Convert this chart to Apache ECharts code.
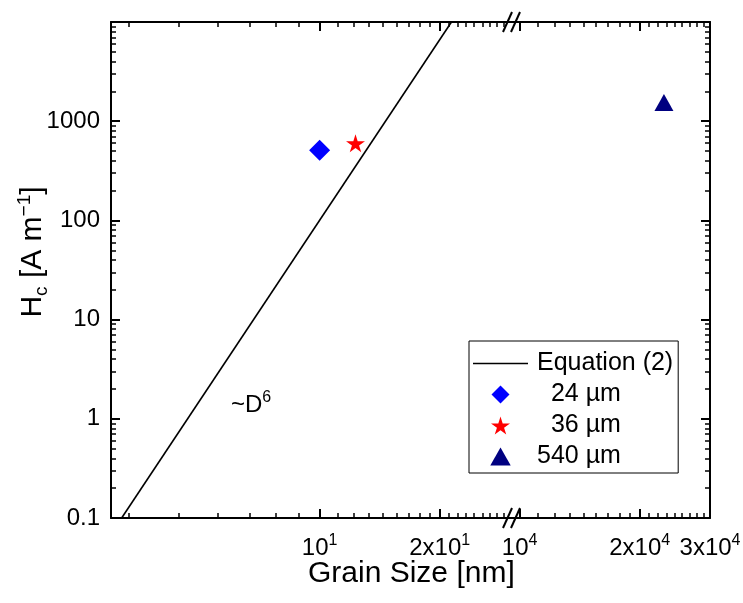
<!DOCTYPE html>
<html>
<head>
<meta charset="utf-8">
<script src="https://cdn.jsdelivr.net/npm/echarts@6/dist/echarts.min.js"></script>
<style>
html, body { margin: 0; padding: 0; background: #fff; }
#chart { width: 743px; height: 603px; }
</style>
</head>
<body>
<div id="chart"></div>
<script>
// 数据
var eqLine = [[3.19, 0.1], [21.4, 10000]];   // Equation (2), ~D^6
var grain24 = [[10, 510]];
var grain36 = [[12.3, 600]];
var grain540 = [[23000, 1540]];

// 刻度
var leftMajor = [10, 20];
var leftLabelBase = ['10', '2x10'];
var leftLabelExp = ['1', '1'];
var leftMinor = [3.33, 4.44, 5.56, 6.67, 7.78, 8.89,
	11.1, 12.2, 13.3, 14.4, 15.6, 16.7, 17.8, 18.9,
	21.1, 22.2, 23.3, 24.4, 25.6, 26.7, 27.8, 28.9];
var rightMajor = [10000, 20000, 30000];
var rightLabelBase = ['10', '2x10', '3x10'];
var rightLabelExp = ['4', '4', '4'];
var rightMinor = [11111, 12222, 13333, 14444, 15556, 16667, 17778, 18889,
	21111, 22222, 23333, 24444, 25556, 26667, 27778, 28889];
var yMajor = [0.1, 1, 10, 100, 1000, 10000];
var yLabels = ['0.1', '1', '10', '100', '1000'];
var yMinor = [0.2, 0.3, 0.4, 0.5, 0.6, 0.7, 0.8, 0.9,
	2, 3, 4, 5, 6, 7, 8, 9,
	20, 30, 40, 50, 60, 70, 80, 90,
	200, 300, 400, 500, 600, 700, 800, 900,
	2000, 3000, 4000, 5000, 6000, 7000, 8000, 9000];

var FONT = 'Liberation Sans';
// 图例和散点的符号
var starPath = 'path://M50,0 L61,35 L98,35 L68,57 L79,91 L50,70 L21,91 L32,57 L2,35 L39,35 Z';
var diamondPath = 'path://M50,0 L100,50 L50,100 L0,50 Z';
var trianglePath = 'path://M50,0 L100,88 L0,88 Z';
var linePath = 'path://M0,0 H100 V3 H0 Z';

var myChart = echarts.init(document.getElementById('chart'));

function findIndex(values, v) {
	for (var i = 0; i < values.length; i++) {
		if (Math.abs(v - values[i]) / values[i] < 1e-3) return i;
	}
	return -1;
}

function supLabel(values, bases, exps) {
	return function(v) {
		var i = findIndex(values, v);
		return i < 0 ? '' : '{b|' + bases[i] + '}{s|' + exps[i] + '}';
	};
}

var supRich = {
	b: { fontSize: 24, fontFamily: FONT, color: '#000', lineHeight: 30 },
	s: { fontSize: 16, fontFamily: FONT, color: '#000', lineHeight: 18, verticalAlign: 'top' }
};

// 主刻度轴
function xMajor(grid, pos, min, max, ticks, labels) {
	return {
		type: 'log', logBase: 10, gridIndex: grid, position: pos, min: min, max: max,
		axisLine: { show: true, onZero: false, lineStyle: { color: '#000', width: 2 } },
		axisTick: { show: true, inside: true, length: 9, customValues: ticks, lineStyle: { color: '#000', width: 2 } },
		axisLabel: labels ? {
			show: true, customValues: ticks, margin: 15, formatter: labels, rich: supRich
		} : { show: false },
		splitLine: { show: false }
	};
}
// 次刻度轴
function xMinor(grid, pos, min, max, ticks) {
	return {
		type: 'log', logBase: 10, gridIndex: grid, position: pos, min: min, max: max,
		axisLine: { show: false, onZero: false },
		axisTick: { show: true, inside: true, length: 5, customValues: ticks, lineStyle: { color: '#000', width: 1.5 } },
		axisLabel: { show: false },
		splitLine: { show: false }
	};
}

var option = {
	animation: false,
	grid: [
		{ left: 111, right: 233, top: 22, bottom: 85, outerBoundsMode: 'none' },
		{ left: 510, right: 33, top: 22, bottom: 85, outerBoundsMode: 'none' }
	],
	xAxis: [
		xMajor(0, 'bottom', 3, 30, leftMajor, supLabel(leftMajor, leftLabelBase, leftLabelExp)),
		xMinor(0, 'bottom', 3, 30, leftMinor),
		xMajor(0, 'top', 3, 30, leftMajor, null),
		xMinor(0, 'top', 3, 30, leftMinor),
		xMajor(1, 'bottom', 9460, 30000, rightMajor, supLabel(rightMajor, rightLabelBase, rightLabelExp)),
		xMinor(1, 'bottom', 9460, 30000, rightMinor),
		xMajor(1, 'top', 9460, 30000, rightMajor, null),
		xMinor(1, 'top', 9460, 30000, rightMinor)
	],
	yAxis: [
		{
			type: 'log', logBase: 10, gridIndex: 0, position: 'left', min: 0.1, max: 10000,
			name: '{b|H}{sub|c}{b| [A m}{sup|−1}{b|]}',
			nameLocation: 'middle', nameGap: 60, nameMoveOverlap: false,
			nameTextStyle: {
				padding: [0, 0, 0, 36],
				rich: {
					b: { fontSize: 30, fontFamily: FONT, color: '#000', lineHeight: 36 },
					sub: { fontSize: 19, fontFamily: FONT, color: '#000', lineHeight: 21, verticalAlign: 'bottom' },
					sup: { fontSize: 19, fontFamily: FONT, color: '#000', lineHeight: 21, verticalAlign: 'top' }
				}
			},
			axisLine: { show: true, onZero: false, lineStyle: { color: '#000', width: 2 } },
			axisTick: { show: true, inside: true, length: 9, customValues: yMajor, lineStyle: { color: '#000', width: 2 } },
			axisLabel: {
				show: true, customValues: yMajor, margin: 11,
				formatter: function(v) {
					var i = findIndex(yMajor, v);
					return (i < 0 || i >= yLabels.length) ? '' : '{b|' + yLabels[i] + '}';
				},
				rich: supRich
			},
			splitLine: { show: false }
		},
		{
			type: 'log', logBase: 10, gridIndex: 0, position: 'left', min: 0.1, max: 10000,
			axisLine: { show: false, onZero: false },
			axisTick: { show: true, inside: true, length: 5, customValues: yMinor, lineStyle: { color: '#000', width: 1.5 } },
			axisLabel: { show: false }, splitLine: { show: false }
		},
		{
			type: 'log', logBase: 10, gridIndex: 1, position: 'right', min: 0.1, max: 10000,
			axisLine: { show: true, onZero: false, lineStyle: { color: '#000', width: 2 } },
			axisTick: { show: true, inside: true, length: 9, customValues: yMajor, lineStyle: { color: '#000', width: 2 } },
			axisLabel: { show: false }, splitLine: { show: false }
		},
		{
			type: 'log', logBase: 10, gridIndex: 1, position: 'right', min: 0.1, max: 10000,
			axisLine: { show: false, onZero: false },
			axisTick: { show: true, inside: true, length: 5, customValues: yMinor, lineStyle: { color: '#000', width: 1.5 } },
			axisLabel: { show: false }, splitLine: { show: false }
		}
	],
	legend: {
		orient: 'vertical', left: 469, top: 341,
		padding: [10, 5, 4, 4], itemGap: 6, itemWidth: 55, itemHeight: 18,
		symbolKeepAspect: true,
		borderColor: '#000', borderWidth: 1,
		textStyle: { fontSize: 25, fontFamily: FONT, color: '#000', padding: [0, 0, 0, 4] },
		data: [
			{ name: 'Equation (2)', icon: linePath },
			{ name: '  24 µm', icon: diamondPath },
			{ name: '  36 µm', icon: starPath },
			{ name: '540 µm', icon: trianglePath }
		]
	},
	series: [
		{
			name: 'Equation (2)', type: 'line', xAxisIndex: 0, yAxisIndex: 0,
			symbol: 'none', data: eqLine,
			lineStyle: { color: '#000', width: 1.6 }, itemStyle: { color: '#000' }
		},
		{
			name: '  24 µm', type: 'scatter', xAxisIndex: 0, yAxisIndex: 0,
			symbol: 'diamond', symbolSize: 21, data: grain24,
			itemStyle: { color: '#0000ff', opacity: 1 }
		},
		{
			name: '  36 µm', type: 'scatter', xAxisIndex: 0, yAxisIndex: 0,
			symbol: starPath, symbolSize: 19, symbolKeepAspect: true, data: grain36,
			itemStyle: { color: '#ff0000', opacity: 1 }
		},
		{
			name: '540 µm', type: 'scatter', xAxisIndex: 4, yAxisIndex: 2,
			symbol: 'triangle', symbolSize: [19, 17], data: grain540,
			itemStyle: { color: '#000080', opacity: 1 }
		}
	],
	graphic: [
		{ type: 'text', left: 231, top: 390, style: { text: '{b|~D}{s|6}', rich: supRich, fill: '#000' } },
		{ type: 'text', left: 308, top: 559, style: { text: 'Grain Size [nm]', font: '30px ' + FONT, fill: '#000' } },
		// 断轴标记
		{ type: 'line', shape: { x1: 503, y1: 528, x2: 512, y2: 508 }, style: { stroke: '#000', lineWidth: 2 } },
		{ type: 'line', shape: { x1: 511, y1: 528, x2: 520, y2: 508 }, style: { stroke: '#000', lineWidth: 2 } },
		{ type: 'line', shape: { x1: 503, y1: 32, x2: 512, y2: 12 }, style: { stroke: '#000', lineWidth: 2 } },
		{ type: 'line', shape: { x1: 511, y1: 32, x2: 520, y2: 12 }, style: { stroke: '#000', lineWidth: 2 } }
	]
};

myChart.setOption(option);
</script>
</body>
</html>
